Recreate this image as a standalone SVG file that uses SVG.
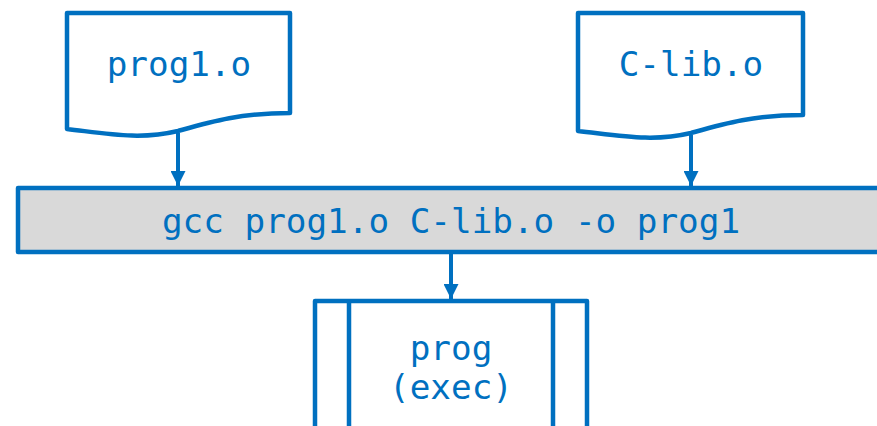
<svg xmlns="http://www.w3.org/2000/svg" width="877" height="426" viewBox="0 0 877 426">
<defs>
<style>
.shape{fill:#fff;stroke:#0070c0;stroke-width:4.5;stroke-linejoin:round}
.bar{fill:#d9d9d9;stroke:#0070c0;stroke-width:4.5;stroke-linejoin:round}
.lbl{font-family:"DejaVu Sans Mono","Liberation Mono",monospace;font-size:34.3px;fill:#0070c0;text-anchor:middle}
.conn{stroke:#0070c0;stroke-width:4;fill:none}
.edge{stroke:#0070c0;stroke-width:4.5;fill:none}
</style>
<marker id="ah" viewBox="0 0 10 10" refX="10" refY="5" markerWidth="15" markerHeight="15" markerUnits="userSpaceOnUse" orient="auto">
<path d="M0,0 L10,5 L0,10 z" fill="#0070c0"/>
</marker>
</defs>
<g id="connectors">
<line class="conn" x1="178" y1="133" x2="178" y2="186" marker-end="url(#ah)"/>
<line class="conn" x1="691" y1="135" x2="691" y2="186" marker-end="url(#ah)"/>
<line class="conn" x1="451" y1="254" x2="451" y2="299" marker-end="url(#ah)"/>
</g>
<g id="prog1o">
<path class="shape" d="M67,13 H290 V113 C240,113 210,122 178,131 C140,140 110,134 67,129 Z"/>
<text class="lbl" x="179" y="76">prog1.o</text>
</g>
<g id="clibo">
<path class="shape" d="M578,13 H803 V115 C753,115 723,124 691,133 C653,142 623,136 578,131 Z"/>
<text class="lbl" x="691" y="76">C-lib.o</text>
</g>
<g id="gcc">
<path class="bar" d="M890,188 H18 V252 H890"/>
<text class="lbl" x="451" y="233">gcc prog1.o C-lib.o -o prog1</text>
</g>
<g id="prog">
<path class="shape" d="M315,440 V301 H587 V440"/>
<line class="edge" x1="349" y1="301" x2="349" y2="440"/>
<line class="edge" x1="553" y1="301" x2="553" y2="440"/>
<text class="lbl" x="451" y="360">prog</text>
<text class="lbl" x="451" y="399">(exec)</text>
</g>
</svg>
